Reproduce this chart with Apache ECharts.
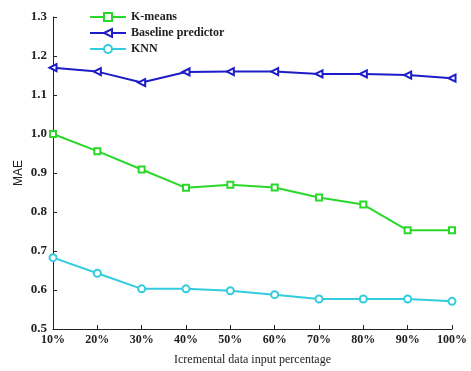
<!DOCTYPE html>
<html>
<head>
<meta charset="utf-8">
<script src="https://cdn.jsdelivr.net/npm/echarts@6/dist/echarts.min.js"></script>
<style>
  html, body { margin: 0; padding: 0; background: #fff; }
  #chart { width: 471px; height: 371px; }
</style>
</head>
<body>
<div id="chart"></div>
<script>
// Incremental data input percentages (x axis categories)
var categories = ['10%', '20%', '30%', '40%', '50%', '60%', '70%', '80%', '90%', '100%'];

// MAE per method
var kmeans   = [1.000, 0.956, 0.909, 0.862, 0.870, 0.863, 0.837, 0.819, 0.753, 0.753];
var baseline = [1.170, 1.160, 1.132, 1.159, 1.160, 1.160, 1.154, 1.154, 1.151, 1.143];
var knn      = [0.683, 0.643, 0.603, 0.603, 0.598, 0.588, 0.577, 0.577, 0.577, 0.571];

var seriesNames = ['K-means', 'Baseline predictor', 'KNN'];
var colors = ['#2ad82a', '#1c1cc8', '#33ccdd'];

var serifBold = { fontFamily: 'Liberation Serif', fontWeight: 'bold', color: '#222' };

function lineSeries(idx, values, symbol, size, extra) {
  return Object.assign({
    name: seriesNames[idx],
    type: 'line',
    data: values,
    symbol: symbol,
    symbolSize: size,
    showAllSymbol: true,
    lineStyle: { width: 2, color: colors[idx] },
    itemStyle: { color: '#fff', borderColor: colors[idx], borderWidth: 2 }
  }, extra || {});
}

var chart = echarts.init(document.getElementById('chart'), null, { renderer: 'canvas' });

chart.setOption({
  animation: false,
  backgroundColor: '#fff',
  grid: { left: 53, right: 19, top: 17, bottom: 41, containLabel: false },
  legend: {
    left: 84,
    top: 6,
    orient: 'vertical',
    itemGap: 4,
    itemWidth: 36,
    itemHeight: 10,
    data: seriesNames,
    textStyle: Object.assign({ fontSize: 12 }, serifBold)
  },
  xAxis: {
    type: 'category',
    data: categories,
    boundaryGap: false,
    name: 'Icremental data input percentage',
    nameLocation: 'middle',
    nameGap: 25,
    nameTextStyle: { fontFamily: 'Liberation Serif', fontSize: 12, color: '#222' },
    axisLine: { lineStyle: { color: '#222', width: 1 } },
    axisTick: { inside: true, length: 4, alignWithLabel: true, lineStyle: { color: '#222' } },
    axisLabel: Object.assign({ fontSize: 12, margin: 5, interval: 0 }, serifBold),
    splitLine: { show: false }
  },
  yAxis: {
    type: 'value',
    min: 0.5,
    max: 1.3,
    interval: 0.1,
    name: 'MAE',
    nameLocation: 'middle',
    nameGap: 28,
    nameMoveOverlap: false,
    nameRotate: 90,
    nameTextStyle: { fontFamily: 'Liberation Sans', fontSize: 12, color: '#222' },
    axisLine: { show: true, lineStyle: { color: '#222', width: 1 } },
    axisTick: { show: true, inside: true, length: 4, lineStyle: { color: '#222' } },
    axisLabel: Object.assign({
      fontSize: 13, margin: 6,
      formatter: function (v) { return v.toFixed(1); }
    }, serifBold),
    splitLine: { show: false }
  },
  series: [
    lineSeries(0, kmeans, 'rect', 6),
    lineSeries(1, baseline, 'triangle', 7, { symbolRotate: 90 }),
    lineSeries(2, knn, 'circle', 7)
  ]
});
</script>
</body>
</html>
